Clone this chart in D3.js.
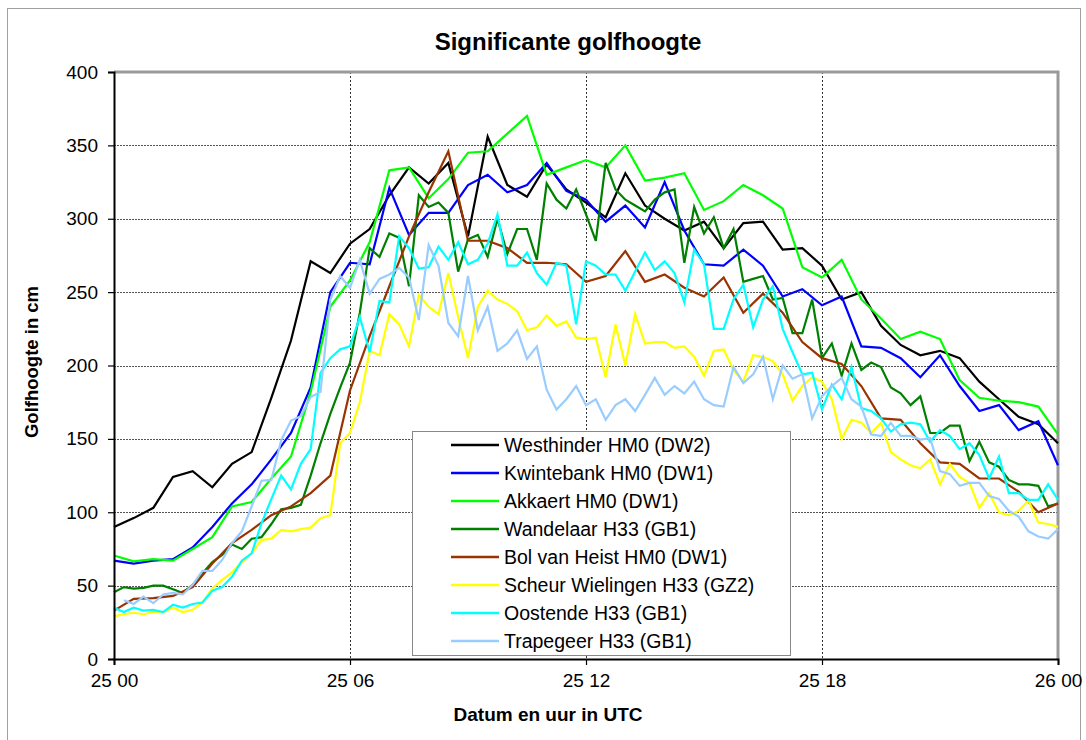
<!DOCTYPE html>
<html>
<head>
<meta charset="utf-8">
<script src="https://cdn.jsdelivr.net/npm/d3@7"></script>
<style>
  body { margin: 0; background: #fff; }
  svg { font-family: "Liberation Sans", Arial, sans-serif; }
</style>
</head>
<body>
<script>
const WIDTH = 1086;
const HEIGHT = 740;

const hourTicks = [0, 6, 12, 18, 24];
const hourLabels = ["25 00", "25 06", "25 12", "25 18", "26 00"];
const yTicks = [0, 50, 100, 150, 200, 250, 300, 350, 400];

const names = [
  "Westhinder HM0 (DW2)",
  "Kwintebank HM0 (DW1)",
  "Akkaert HM0 (DW1)",
  "Wandelaar H33 (GB1)",
  "Bol van Heist HM0 (DW1)",
  "Scheur Wielingen H33 (GZ2)",
  "Oostende H33 (GB1)",
  "Trapegeer H33 (GB1)"
];
const colors = ["#000000", "#0000ff", "#00ff00", "#008000", "#993300", "#ffff00", "#00ffff", "#99ccff"];
// hours between two readings
const steps = [0.5, 0.5, 0.5, 0.25, 0.5, 0.25, 0.25, 0.25];

// half-hourly
const westhinder = [90,96,103,124,128,117,133,141,178,217,271,263,283,293,316,335,
  324,338,288,356,323,315,337,320,311,301,331,309,300,292,298,280,
  297,298,279,280,268,245,250,227,214,207,210,205,189,177,165,160,147];
const kwintebank = [67,65,67,68,76,90,106,119,136,154,185,250,270,269,321,289,
  304,304,323,330,318,323,338,319,313,298,309,294,325,292,269,268,
  279,268,247,252,241,247,213,212,205,192,207,186,169,173,156,162,132];
const akkaert = [70.5,66.5,68,67,75,83,104,107,123,138,182,240,258,284,333,335,
  314,327,345,346,358,370,330,335,340,335,350,326,328,331,306,312,
  323,316,307,267,260,272,245,232,218,223,218,190,178,176,175,172,153];
const bolVanHeist = [33,41,41.5,43,49,65,79,88,98,104,113,125,183,220,254,288,
  318,346,285,285,280,270,270,269,257,261,278,257,262,253,247,260,
  236,249,236,216,205,201,186,164,163,147,134,133,123,123,114,100,106];

// quarter-hourly
const wandelaar = [45.5,49,48,48.5,50,50,47.5,45,50.5,58.5,
  66,71,78,75,82,83,92,102,103,105,
  125,147,167,185,202,236,280,274,290,287,
  254,316,308,311,304,264,286,289,274,300,
  276,293,293,272,324,313,307,320,303,285,
  338,320,313,309,305,313,318,320,270,308,
  290,301,280,293,257,259,261,245,246,222,
  222,245,205,215,193,215,197,202,199,185,
  181,173,179,154,154,159,159,135,148,134,
  131,122,119,119,118,104,106];
const scheurWielingen = [29,30.5,31.5,30.5,32,32,35,32,33.5,38.5,
  48,54,59,66,72,81,82,88,87,88.5,
  89.5,96,98,147,154,175,210,207,235,228,
  213,248,240,235,263,233,205,240,251,245,
  242,237,224,226,234,227,230,219,218,219,
  192,228,200,235,215,216,216,212,213,206,
  193,210,211,197,189,207,206,203,194,176,
  186,192,189,177,150,163,161,154,161,141,
  136,132,130,136,119,133,124,120,103,113,
  100,98,101,108,93,92,90];
const oostende = [35,32,35,33,33.5,32,37,35,37.5,38.5,
  46.5,49,56,67,72,92.5,109,125,115.5,133,
  143,195,205,211,213,233,209,244,243,288,
  280,266,267,281,272,284,269,272,283,303,
  268,268,277,263,255,270,268,228,271,268,
  262,262,251,264,277,265,271,263,243,279,
  269,225,225,245,255,226,245,254,225,209,
  194,195,170,187,177,199,171,169,164,155,
  160,161,160,148,156,152,143,147,139,123,
  138,113,113,108.5,108.5,119,108.5];
const trapegeer = [null,40,37.5,42.5,38,44,45,44,50.5,60,
  60,67.5,79,87,104,121.5,122,149,162.5,165.5,
  178.5,182,245,261,253,272,249,259,262,266.5,
  260,231,282,268,229,220,261,224,240,210,
  215,224,204.5,213,183.5,170,177,186,173,177,
  163,173,177,169,180,191.5,180,186,181,189,
  177,173,172,199,188,194,206,177,200,191,
  194,164,179,186,191.5,177,172,153,152,161,
  152,152,149.5,150.5,128,126,118,120,120,111,
  109,101,97,87,83.5,82,88.5];

const seriesValues = [westhinder, kwintebank, akkaert, wandelaar, bolVanHeist, scheurWielingen, oostende, trapegeer];

const plot = {left: 114, right: 1058, top: 72, bottom: 659};

const svg = d3.select("body").append("svg")
    .attr("width", WIDTH)
    .attr("height", HEIGHT);

// chart area border
svg.append("rect")
    .attr("x", 7.5).attr("y", 8.5)
    .attr("width", 1073).attr("height", 800)
    .attr("fill", "none")
    .attr("stroke", "#a0a0a0");

const x = d3.scaleLinear().domain([0, 24]).range([plot.left, plot.right]);
const y = d3.scaleLinear().domain([0, 400]).range([plot.bottom, plot.top]);

// horizontal grid
svg.append("g")
  .selectAll("line")
  .data(yTicks.filter(v => v > 0 && v < 400)).enter()
  .append("line")
    .attr("x1", plot.left).attr("x2", plot.right)
    .attr("y1", d => Math.round(y(d)) + 0.5).attr("y2", d => Math.round(y(d)) + 0.5)
    .attr("stroke", "#555")
    .attr("stroke-width", 1)
    .attr("stroke-dasharray", "2,1");

// vertical grid
svg.append("g")
  .selectAll("line")
  .data(hourTicks.slice(1, -1)).enter()
  .append("line")
    .attr("x1", d => Math.round(x(d)) + 0.5).attr("x2", d => Math.round(x(d)) + 0.5)
    .attr("y1", plot.top).attr("y2", plot.bottom)
    .attr("stroke", "#333")
    .attr("stroke-width", 1)
    .attr("stroke-dasharray", "2,2");

// plot frame, top and right in grey
svg.append("path")
    .attr("d", `M${plot.left},${plot.top}H${plot.right}V${plot.bottom}`)
    .attr("fill", "none")
    .attr("stroke", "#999")
    .attr("stroke-width", 3);

// series
const line = d3.line()
    .defined(d => d.v != null)
    .x(d => x(d.h))
    .y(d => y(d.v));

seriesValues.forEach(function (vals, k) {
  const pts = vals.map((v, i) => ({h: i * steps[k], v: v}));
  svg.append("path")
      .datum(pts)
      .attr("fill", "none")
      .attr("stroke", colors[k])
      .attr("stroke-width", 2.2)
      .attr("stroke-linejoin", "miter")
      .attr("d", line);
});

// axes
const yAxis = svg.append("g")
    .attr("transform", `translate(${plot.left},0)`)
    .call(d3.axisLeft(y).tickValues(yTicks).tickSize(6).tickPadding(10));
const xAxis = svg.append("g")
    .attr("transform", `translate(0,${plot.bottom})`)
    .call(d3.axisBottom(x).tickValues(hourTicks).tickSize(6).tickPadding(9)
      .tickFormat((d, i) => hourLabels[i]));

[yAxis, xAxis].forEach(function (g) {
  g.select(".domain").attr("stroke", "#000").attr("stroke-width", 2);
  g.selectAll(".tick line").attr("stroke", "#000").attr("stroke-width", 1.2);
  g.selectAll(".tick text")
      .attr("fill", "#000")
      .style("font-size", "19px")
      .style("font-family", "'Liberation Sans', Arial, sans-serif");
});

// titles
svg.append("text")
    .attr("x", 568).attr("y", 50)
    .attr("text-anchor", "middle")
    .style("font-size", "24px")
    .style("font-weight", "bold")
    .text("Significante golfhoogte");

svg.append("text")
    .attr("x", 548).attr("y", 721)
    .attr("text-anchor", "middle")
    .style("font-size", "19px")
    .style("font-weight", "bold")
    .text("Datum en uur in UTC");

svg.append("text")
    .attr("transform", "translate(38,362) rotate(-90)")
    .attr("text-anchor", "middle")
    .style("font-size", "18.5px")
    .style("font-weight", "bold")
    .text("Golfhoogte in cm");

// legend
const legend = svg.append("g").attr("transform", "translate(412,431)");
legend.append("rect")
    .attr("x", 0.5).attr("y", 0.5)
    .attr("width", 378).attr("height", 224)
    .attr("fill", "#fff")
    .attr("stroke", "#888");

const rows = legend.selectAll(".row")
    .data(names).enter()
  .append("g")
    .attr("transform", (d, i) => `translate(0,${14 + i * 28})`);
rows.append("line")
    .attr("x1", 39).attr("x2", 87)
    .attr("stroke", (d, i) => colors[i])
    .attr("stroke-width", 2.5);
rows.append("text")
    .attr("x", 92).attr("y", 7)
    .style("font-size", "19.5px")
    .text(d => d);
</script>
</body>
</html>
